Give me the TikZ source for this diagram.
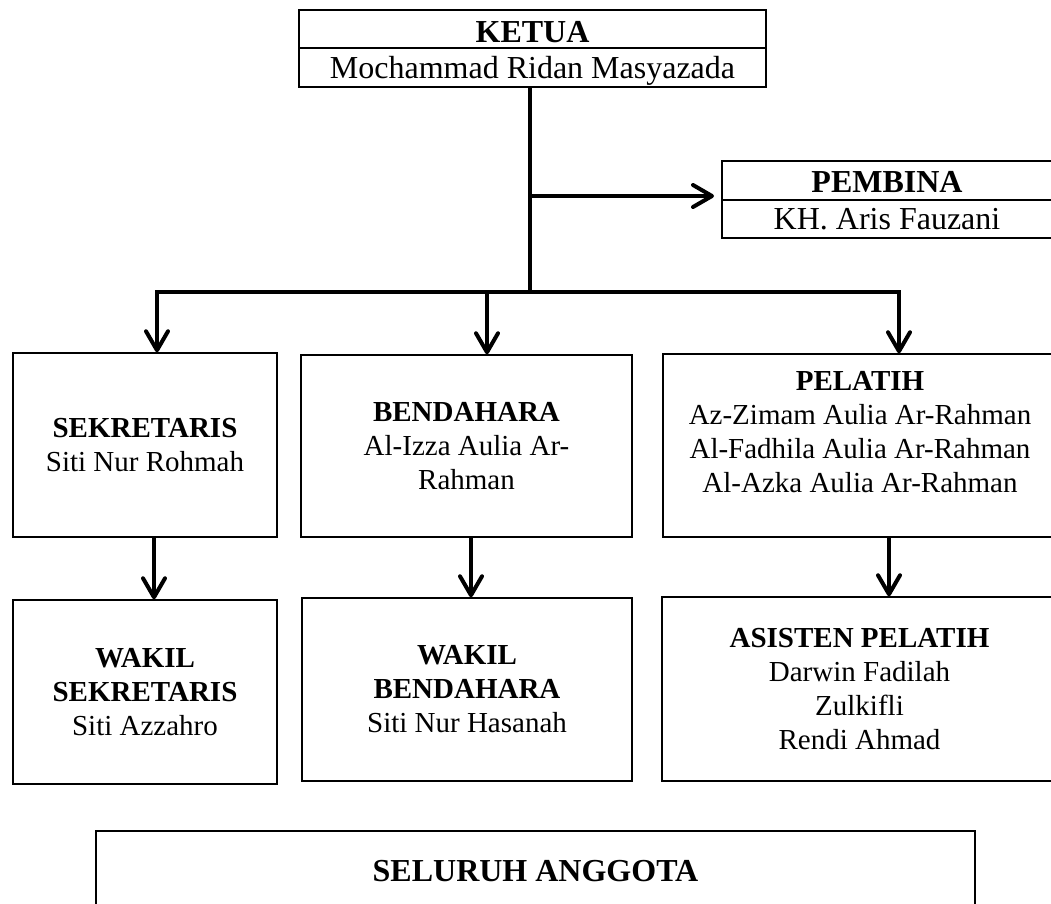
\documentclass[tikz,border=0pt]{standalone}
\usepackage{fontspec}
\setmainfont{Liberation Serif}
\usetikzlibrary{arrows.meta}
\begin{document}
\tikzset{
  >={Straight Barb[length=19pt,width=22pt,round]},
  box/.style={draw, line width=1.5pt, rectangle, inner sep=0pt, align=center,
    font=\fontsize{29}{34}\selectfont},
  topbox/.style={draw, line width=2pt, rectangle, inner sep=0pt,
    font=\fontsize{32}{36}\selectfont},
  conn/.style={line width=4pt, line join=miter},
  arr/.style={conn, ->},
}
\begin{tikzpicture}[x=1pt,y=-1pt]
\useasboundingbox (0,0) rectangle (1051,903);
\clip (0,0) rectangle (1051,903);
\fill[white] (0,0) rectangle (1051,903);

% Ketua
\node[topbox, minimum width=467pt, minimum height=38pt, text height=26pt, text depth=0pt,
  font=\fontsize{32}{36}\selectfont\bfseries] (ketuaT) at (532.5,29) {KETUA};
\node[topbox, minimum width=467pt, minimum height=39pt, text height=28pt, text depth=7pt]
  (ketuaN) at (532.5,67.5) {Mochammad Ridan Masyazada};

% Pembina
\node[topbox, minimum width=330pt, minimum height=39pt, text height=23pt, text depth=0pt,
  font=\fontsize{32}{36}\selectfont\bfseries] (pemT) at (887,180.5) {PEMBINA};
\node[topbox, minimum width=330pt, minimum height=38pt, text height=27pt, text depth=7pt]
  (pemN) at (887,219) {KH. Aris Fauzani};

% Second row
\node[box, minimum width=264pt, minimum height=184pt] (sek) at (145,445)
  {\textbf{SEKRETARIS}\\Siti Nur Rohmah};
\node[box, minimum width=331pt, minimum height=182pt] (ben) at (466.5,446)
  {\textbf{BENDAHARA}\\Al-Izza Aulia Ar-\\Rahman};
\node[box, minimum width=394pt, minimum height=183pt, text depth=27pt] (pel) at (860,445.5)
  {\textbf{PELATIH}\\Az-Zimam Aulia Ar-Rahman\\Al-Fadhila Aulia Ar-Rahman\\Al-Azka Aulia Ar-Rahman};

% Third row
\node[box, minimum width=264pt, minimum height=184pt] (wsek) at (145,692)
  {\textbf{WAKIL}\\\textbf{SEKRETARIS}\\Siti Azzahro};
\node[box, minimum width=330pt, minimum height=183pt] (wben) at (467,689.5)
  {\textbf{WAKIL}\\\textbf{BENDAHARA}\\Siti Nur Hasanah};
\node[box, minimum width=395pt, minimum height=184pt] (asis) at (859.5,689)
  {\textbf{ASISTEN PELATIH}\\Darwin Fadilah\\Zulkifli\\Rendi Ahmad};

% Bottom
\node[box, minimum width=879pt, minimum height=128pt] (all) at (535.5,895) {};
\node[anchor=base, inner sep=0pt, font=\fontsize{32}{36}\selectfont\bfseries] (allT) at (535.5,881) {SELURUH ANGGOTA};

% Connectors
\coordinate (j) at (530,292);
\coordinate (jp) at (530,196);
\coordinate (bL) at (157,292);
\coordinate (bM) at (487,292);
\coordinate (bR) at (899,292);
\draw[conn] (ketuaN.south -| j) -- (j);
\draw[arr, shorten >=7pt] (jp) -- (jp -| pemT.west);
\draw[conn, <->] (bL |- sek.north) -- (bL) -- (bR) -- (bR |- pel.north);
\draw[arr] (bM) -- (bM |- ben.north);
\draw[arr] ([xshift=9pt]sek.south) -- ([xshift=9pt]sek.south |- wsek.north);
\draw[arr] ([xshift=4.5pt]ben.south) -- ([xshift=4.5pt]ben.south |- wben.north);
\draw[arr] ([xshift=29pt]pel.south) -- ([xshift=29pt]pel.south |- asis.north);
\end{tikzpicture}
\end{document}
